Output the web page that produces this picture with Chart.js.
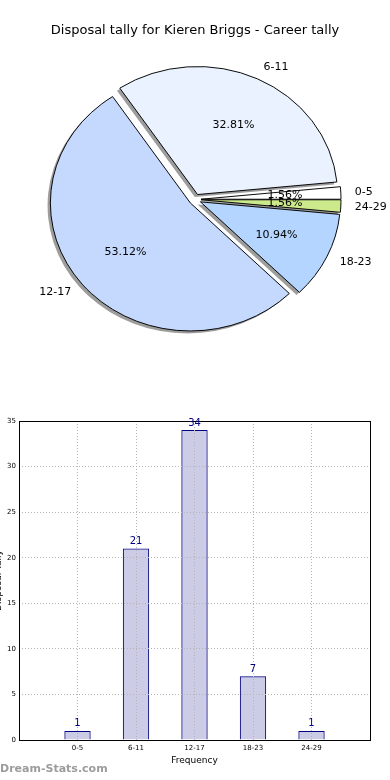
<!DOCTYPE html>
<html>
<head>
<meta charset="utf-8">
<title>Disposal tally - Kieren Briggs</title>
<script src="https://cdn.jsdelivr.net/npm/chart.js@4.4.0/dist/chart.umd.min.js"></script>
<style>
  html, body { margin: 0; padding: 0; background: #fff; }
  body { width: 390px; height: 780px; position: relative; overflow: hidden; }
  #pie-wrap { position: absolute; left: 0; top: 0; width: 390px; height: 400px; }
  #bar-wrap { position: absolute; left: -8px; top: 400px; width: 398px; height: 380px; }
  #watermark {
    position: absolute; left: 0; top: 762px;
    font-family: 'DejaVu Sans', sans-serif; font-size: 11px; font-weight: bold; color: #9c9c9c;
  }
</style>
</head>
<body>
<div id="pie-wrap"><canvas id="pie"></canvas></div>
<div id="bar-wrap"><canvas id="bar"></canvas></div>
<div id="watermark">Dream-Stats.com</div>
<script>
const categories = ['0-5', '6-11', '12-17', '18-23', '24-29'];
const tallies = [1, 21, 34, 7, 1];
const yTicks = [0, 5, 10, 15, 20, 25, 30, 35];

const chartTitle = 'Disposal tally for Kieren Briggs - Career tally';
const xTitle = 'Frequency';
const yTitle = 'Disposal Tally';

const sliceColors = ['#ffffff', '#eaf2ff', '#c5d9ff', '#b4d5ff', '#cce98b'];

const FONT = "'DejaVu Sans', sans-serif";
const PIE_RADIUS = 140;
const PIE_SQUASH = 128 / 140;   // matplotlib pie is not drawn with equal axes
const EXPLODE = 6;

Chart.defaults.font.family = FONT;
Chart.defaults.color = '#000';

// matplotlib style %1.2f (ties go to even)
function pct(v) {
    let s = v * 10000;
    let r = Math.round(s);
    if (Math.abs(s - Math.floor(s) - 0.5) < 1e-9 && r % 2 !== 0) r -= 1;
    return (r / 100).toFixed(2) + '%';
}

// move each wedge out along its middle angle
function explodeArc(arc) {
    if (arc._exploded) return;
    const draw = arc.draw;
    arc.draw = function (ctx) {
        const mid = (this.startAngle + this.endAngle) / 2;
        ctx.save();
        ctx.translate(Math.cos(mid) * EXPLODE, Math.sin(mid) * EXPLODE);
        draw.call(this, ctx);
        ctx.restore();
    };
    arc._exploded = true;
}

const pieShape = {
    id: 'pieShape',
    beforeDatasetsDraw(chart) {
        const ctx = chart.ctx;
        const arcs = chart.getDatasetMeta(0).data;
        const cx = arcs[0].x, cy = arcs[0].y;
        ctx.save();
        ctx.translate(cx, cy);
        ctx.scale(1, PIE_SQUASH);
        ctx.translate(-cx, -cy);
        arcs.forEach(explodeArc);

        /* shadows under all wedges */
        arcs.forEach(function (arc) {
            const ghost = Object.create(arc);
            ghost.options = Object.assign({}, arc.options, {
                backgroundColor: 'rgba(60,60,60,0.5)',
                borderColor: 'rgba(60,60,60,0)'
            });
            ctx.save();
            ctx.translate(-0.02 * PIE_RADIUS, 0.02 * PIE_RADIUS);
            ghost.draw(ctx);
            ctx.restore();
        });
    },
    afterDatasetsDraw(chart) {
        const ctx = chart.ctx;
        ctx.restore();

        const meta = chart.getDatasetMeta(0);
        const values = chart.data.datasets[0].data;
        const total = values.reduce((a, b) => a + b, 0);

        ctx.save();
        ctx.fillStyle = '#000';
        ctx.font = '11px ' + FONT;
        ctx.textBaseline = 'middle';
        meta.data.forEach(function (arc, k) {
            const mid = (arc.startAngle + arc.endAngle) / 2;
            const cos = Math.cos(mid), sin = Math.sin(mid);
            const at = f => [
                arc.x + cos * (EXPLODE + f * PIE_RADIUS),
                arc.y + sin * (EXPLODE + f * PIE_RADIUS) * PIE_SQUASH
            ];

            let p = at(1.1);
            ctx.textAlign = cos > 0 ? 'left' : 'right';
            ctx.fillText(chart.data.labels[k], p[0], p[1]);

            p = at(0.6);
            ctx.textAlign = 'center';
            ctx.fillText(pct(values[k] / total), p[0], p[1]);
        });
        ctx.restore();
    }
};

// matplotlib goes anticlockwise from 3 o'clock, Chart.js clockwise
let pieOrder = categories.map((c, i) => i).reverse();

new Chart(document.getElementById('pie'), {
    type: 'pie',
    data: {
        labels: pieOrder.map(i => categories[i]),
        datasets: [{
            data: pieOrder.map(i => tallies[i]),
            backgroundColor: pieOrder.map(i => sliceColors[i]),
            borderColor: '#000',
            borderWidth: 1,
            clip: false
        }]
    },
    options: {
        responsive: true,
        maintainAspectRatio: false,
        animation: false,
        events: [],
        rotation: 90,
        radius: PIE_RADIUS,
        layout: { padding: { top: 0, left: 0, right: 0, bottom: 39.6 } },
        plugins: {
            legend: { display: false },
            tooltip: { enabled: false },
            title: {
                display: true,
                text: chartTitle,
                color: '#000',
                font: { size: 13, weight: 'normal' },
                padding: { top: 23, bottom: 0 }
            }
        }
    },
    plugins: [pieShape]
});


/* bar chart */
const frame = {
    id: 'frame',
    afterDraw(chart) {
        const {ctx, chartArea: a} = chart;
        ctx.save();
        ctx.strokeStyle = '#000';
        ctx.lineWidth = 1;
        ctx.strokeRect(Math.round(a.left) + 0.5, Math.round(a.top) + 0.5,
            Math.round(a.right - a.left), Math.round(a.bottom - a.top));
        ctx.restore();
    }
};

const barValues = {
    id: 'barValues',
    afterDraw(chart) {
        const ctx = chart.ctx;
        ctx.save();
        ctx.fillStyle = '#000080';
        ctx.font = '10px ' + FONT;
        ctx.textAlign = 'center';
        ctx.textBaseline = 'bottom';
        chart.getDatasetMeta(0).data.forEach(function (bar, i) {
            ctx.fillText(String(tallies[i]), bar.x, bar.y - 2);
        });
        ctx.restore();
    }
};

const gridStyle = { color: '#b4b4b4', drawTicks: false, offset: false, z: 1 };
const dotted = { display: false, dash: [1, 2] };

new Chart(document.getElementById('bar'), {
    type: 'bar',
    data: {
        datasets: [{
            data: tallies.map((v, i) => ({ x: i, y: v })),
            backgroundColor: 'rgba(0,0,128,0.2)',
            borderColor: '#000080',
            borderWidth: 1,
            barPercentage: 0.45,
            categoryPercentage: 1
        }]
    },
    options: {
        responsive: true,
        maintainAspectRatio: false,
        animation: false,
        events: [],
        layout: { padding: { top: 21, right: 20, left: 0, bottom: 0 } },
        plugins: { legend: { display: false }, tooltip: { enabled: false } },
        scales: {
            x: {
                type: 'linear',
                min: -1,
                max: categories.length,
                offset: false,
                afterFit: s => { s.height = 40; },
                grid: gridStyle,
                border: dotted,
                ticks: {
                    stepSize: 1,
                    autoSkip: false,
                    maxRotation: 0,
                    padding: 4,
                    font: { size: 7 },
                    callback: v => categories[v] || ''
                },
                title: { display: true, text: xTitle, font: { size: 9 }, padding: { top: 0, bottom: 14 } }
            },
            y: {
                min: yTicks[0],
                max: yTicks[yTicks.length - 1],
                afterFit: s => { s.width = 27; },
                grid: gridStyle,
                border: dotted,
                ticks: { stepSize: yTicks[1] - yTicks[0], padding: 3, font: { size: 7 } },
                title: { display: true, text: yTitle, font: { size: 9 }, padding: { top: 1, bottom: 0 } }
            }
        }
    },
    plugins: [frame, barValues]
});
</script>
</body>
</html>
